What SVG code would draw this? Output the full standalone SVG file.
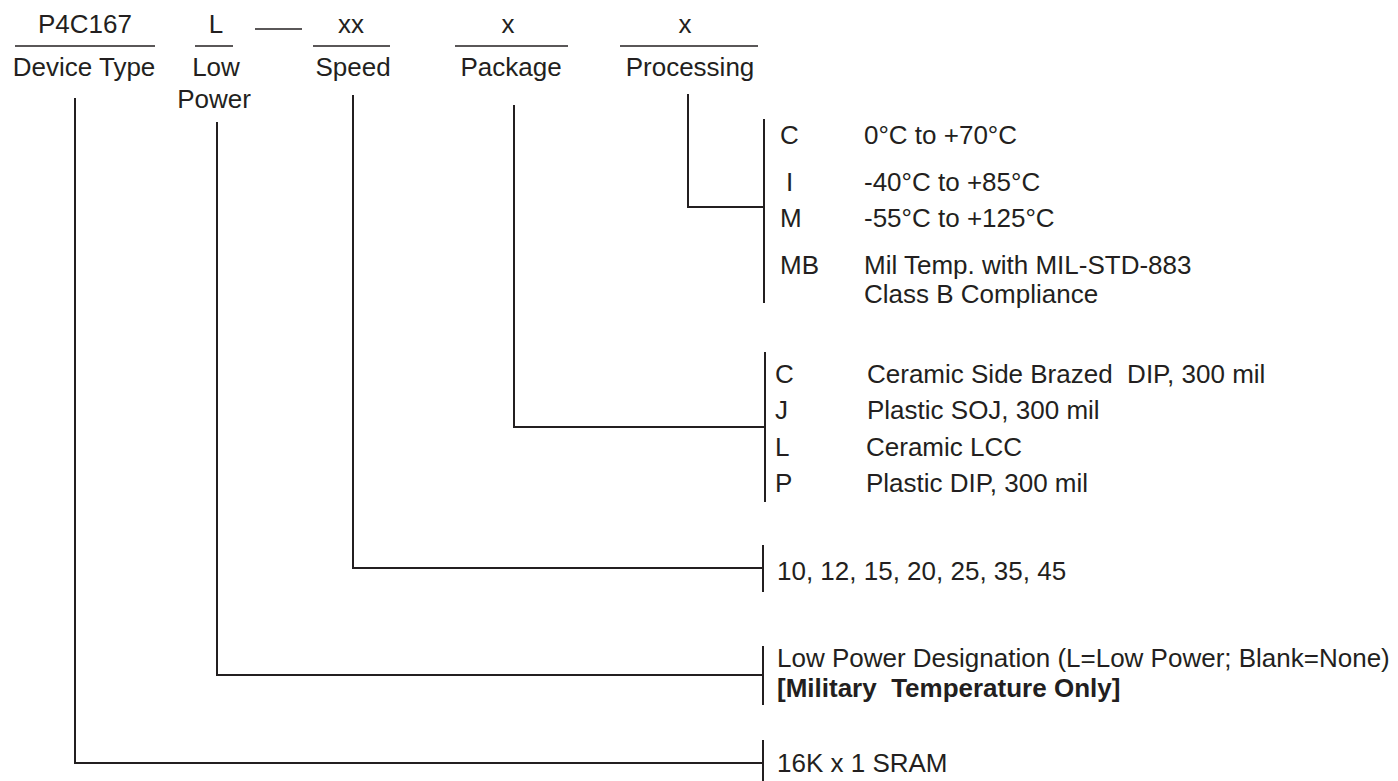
<svg xmlns="http://www.w3.org/2000/svg" width="1398" height="781" viewBox="0 0 1398 781">
<style>
text{font-family:"Liberation Sans",Arial,sans-serif;font-size:26px;fill:#231f20}
.c{text-anchor:middle}
.b{font-weight:bold}
.ln{stroke:#231f20;stroke-width:2;fill:none}
.ul{stroke:#231f20;stroke-width:1.6}
</style>
<rect width="1398" height="781" fill="#fff"/>
<g id="device-type">
<text class="c" x="85" y="33">P4C167</text>
<line class="ul" x1="15" y1="46" x2="155" y2="46"/>
<text class="c" x="84" y="76">Device Type</text>
</g>
<g id="low-power">
<text class="c" x="216" y="33">L</text>
<line class="ul" x1="195" y1="46" x2="233" y2="46"/>
<text class="c" x="216" y="76">Low</text>
<text class="c" x="214" y="108">Power</text>
</g>
<g id="dash"><line class="ul" x1="255" y1="29" x2="302" y2="29"/></g>
<g id="speed">
<text class="c" x="351" y="33">xx</text>
<line class="ul" x1="313" y1="46" x2="390" y2="46"/>
<text class="c" x="353" y="76">Speed</text>
</g>
<g id="package">
<text class="c" x="508" y="33">x</text>
<line class="ul" x1="455" y1="46" x2="568" y2="46"/>
<text class="c" x="511" y="76">Package</text>
</g>
<g id="processing">
<text class="c" x="685" y="33">x</text>
<line class="ul" x1="620" y1="46" x2="758" y2="46"/>
<text class="c" x="690" y="76">Processing</text>
</g>
<g id="connectors">
<polyline class="ln" points="688,94 688,207 764,207"/>
<line class="ln" x1="764" y1="119" x2="764" y2="303"/>
<polyline class="ln" points="514,105 514,427 765,427"/>
<line class="ln" x1="765" y1="352" x2="765" y2="502"/>
<polyline class="ln" points="353,95 353,568 763,568"/>
<line class="ln" x1="763" y1="545" x2="763" y2="592"/>
<polyline class="ln" points="217,122 217,675 763,675"/>
<line class="ln" x1="763" y1="646" x2="763" y2="705"/>
<polyline class="ln" points="75,98 75,763 763,763"/>
<line class="ln" x1="763" y1="740" x2="763" y2="781"/>
</g>
<g id="processing-options">
<text x="780" y="144">C</text><text x="864" y="144">0°C to +70°C</text>
<text x="786" y="191">I</text><text x="864" y="191">-40°C to +85°C</text>
<text x="780" y="227">M</text><text x="864" y="227">-55°C to +125°C</text>
<text x="780" y="274">MB</text><text x="864" y="274">Mil Temp. with MIL-STD-883</text>
<text x="864" y="303">Class B Compliance</text>
</g>
<g id="package-options">
<text x="775" y="383">C</text><text x="867" y="383" xml:space="preserve">Ceramic Side Brazed  DIP, 300 mil</text>
<text x="775" y="419">J</text><text x="867" y="419">Plastic SOJ, 300 mil</text>
<text x="775" y="456">L</text><text x="866" y="456">Ceramic LCC</text>
<text x="775" y="492">P</text><text x="866" y="492">Plastic DIP, 300 mil</text>
</g>
<g id="speed-options"><text x="777" y="580">10, 12, 15, 20, 25, 35, 45</text></g>
<g id="low-power-options">
<text x="777" y="667">Low Power Designation (L=Low Power; Blank=None)</text>
<text class="b" x="777" y="697" xml:space="preserve">[Military  Temperature Only]</text>
</g>
<g id="device-options"><text x="777" y="772">16K x 1 SRAM</text></g>
</svg>
